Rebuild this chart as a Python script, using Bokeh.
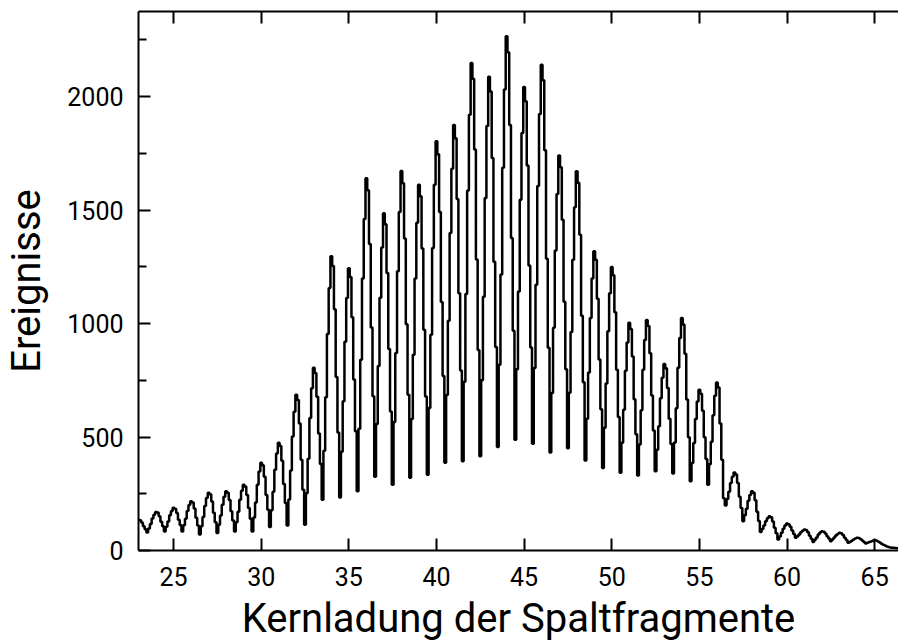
import numpy as np
from bokeh.plotting import figure
from bokeh.models import Range1d, LinearAxis, FixedTicker, ColumnDataSource
from bokeh.embed import file_html
from bokeh.resources import INLINE

# Histogram of nuclear charge (bins of 0.1 charge units; first bin centred at 22.6)
BIN_WIDTH = 0.1
FIRST_CENTER = 22.6

# each line: bins centred at Z-0.4 ... Z+0.5
counts_23_30 = [
    99, 109, 121, 129, 135, 133, 123, 107, 94, 79,          # Z=23
    97, 117, 141, 158, 170, 167, 151, 127, 107, 84,         # Z=24
    105, 128, 155, 174, 188, 184, 165, 136, 112, 84,        # Z=25
    111, 140, 174, 200, 217, 211, 185, 144, 110, 70,        # Z=26
    107, 148, 196, 231, 255, 248, 216, 166, 125, 77,        # Z=27
    114, 154, 202, 237, 261, 254, 222, 173, 132, 84,        # Z=28
    125, 171, 224, 263, 290, 282, 245, 187, 140, 84,        # Z=29
    145, 211, 290, 348, 387, 376, 325, 245, 180, 103,       # Z=30
]
counts_31_38 = [
    177, 259, 356, 427, 475, 460, 395, 293, 209, 110,       # Z=31
    225, 352, 502, 611, 686, 663, 560, 400, 268, 114,       # Z=32
    252, 404, 584, 715, 805, 782, 677, 515, 381, 224,       # Z=33
    439, 675, 954, 1157, 1297, 1254, 1063, 765, 520, 233,   # Z=34
    435, 658, 920, 1113, 1244, 1205, 1028, 753, 526, 261,   # Z=35
    537, 840, 1199, 1461, 1640, 1587, 1351, 983, 680, 325,  # Z=36
    557, 813, 1114, 1335, 1486, 1438, 1223, 888, 613, 290,  # Z=37
    566, 870, 1230, 1492, 1672, 1618, 1375, 997, 686, 321,  # Z=38
]
counts_39_46 = [
    579, 863, 1199, 1444, 1612, 1561, 1331, 973, 679, 334,  # Z=39
    628, 951, 1333, 1612, 1803, 1746, 1491, 1095, 769, 387, # Z=40
    685, 1012, 1399, 1682, 1875, 1816, 1549, 1134, 793, 393,# Z=41
    744, 1130, 1586, 1920, 2148, 2079, 1767, 1282, 883, 415,# Z=42
    750, 1118, 1553, 1871, 2088, 2023, 1729, 1272, 897, 456,# Z=43
    818, 1216, 1687, 2031, 2266, 2195, 1875, 1377, 968, 488,# Z=44
    799, 1141, 1545, 1840, 2042, 1979, 1696, 1256, 894, 470,# Z=45
    804, 1171, 1606, 1923, 2140, 2072, 1764, 1286, 893, 432,# Z=46
]
counts_47_54 = [
    694, 982, 1322, 1571, 1741, 1689, 1457, 1096, 799, 451, # Z=47
    695, 963, 1281, 1512, 1671, 1620, 1391, 1034, 741, 397, # Z=48
    581, 784, 1024, 1199, 1319, 1281, 1109, 842, 622, 364,  # Z=49
    541, 736, 966, 1134, 1249, 1213, 1050, 796, 588, 343,   # Z=50
    475, 620, 792, 917, 1003, 976, 855, 667, 512, 330,      # Z=51
    467, 618, 796, 927, 1016, 989, 869, 683, 529, 349,      # Z=52
    444, 548, 671, 761, 822, 803, 716, 581, 469, 339,       # Z=53
    476, 627, 805, 936, 1025, 996, 867, 665, 499, 305,      # Z=54
]
counts_55_66 = [
    386, 474, 579, 656, 708, 691, 616, 499, 403, 290,       # Z=55
    380, 479, 596, 682, 740, 718, 560, 400, 230, 198,       # Z=56
    227, 259, 297, 325, 344, 335, 297, 237, 187, 129,       # Z=57
    155, 184, 219, 244, 261, 254, 221, 171, 130, 81,        # Z=58
    95, 110, 129, 142, 151, 147, 128, 100, 76, 48,          # Z=59
    62, 78, 96, 110, 119, 116, 105, 88, 73, 56,             # Z=60
    63, 71, 80, 87, 92, 90, 80, 65, 52, 37,                 # Z=61
    47, 57, 70, 79, 85, 83, 75, 63, 53, 41,                 # Z=62
    48, 57, 66, 73, 78, 76, 68, 56, 46, 34,                 # Z=63
    38, 43, 49, 53, 56, 55, 51, 44, 38, 31,                 # Z=64
    34, 37, 40, 43, 45, 44, 40, 35, 30, 25,                 # Z=65
    22, 18, 15, 13, 12, 12, 11, 10, 10, 9,                  # Z=66
]

x_ticks = [25, 30, 35, 40, 45, 50, 55, 60, 65]
y_ticks = [0, 500, 1000, 1500, 2000]
y_minor_ticks = [250, 750, 1250, 1750, 2250]

x_label = "Kernladung der Spaltfragmente"
y_label = "Ereignisse"

counts = counts_23_30 + counts_31_38 + counts_39_46 + counts_47_54 + counts_55_66
centers = np.round(FIRST_CENTER + BIN_WIDTH * np.arange(len(counts)), 2)
source = ColumnDataSource(data=dict(z=centers, n=counts))

FONT = "Roboto"

p = figure(width=898, height=644, output_backend="svg", toolbar_location=None,
           x_range=Range1d(23.0, 66.36), y_range=Range1d(0, 2375),
           x_axis_location=None, y_axis_location=None,
           min_border_left=137, min_border_right=0, min_border_top=11, min_border_bottom=93)
p.outline_line_color = None
p.xgrid.visible = False
p.ygrid.visible = False
p.background_fill_color = "white"
p.border_fill_color = "white"

p.step("z", "n", source=source, mode="center", line_color="black", line_width=2.5)


def style(ax):
    ax.axis_line_color = "black"
    ax.axis_line_width = 2
    ax.major_tick_in = 12
    ax.major_tick_out = 0
    ax.minor_tick_in = 8
    ax.minor_tick_out = 0
    ax.major_tick_line_color = "black"
    ax.major_tick_line_width = 2
    ax.minor_tick_line_color = "black"
    ax.minor_tick_line_width = 2
    ax.major_label_text_font = FONT
    ax.major_label_text_font_size = "25px"
    ax.major_label_text_color = "black"
    ax.axis_label_text_font = FONT
    ax.axis_label_text_font_size = "40px"
    ax.axis_label_text_font_style = "normal"
    ax.axis_label_text_color = "black"


xb = LinearAxis(ticker=FixedTicker(ticks=x_ticks, minor_ticks=[]), axis_label=x_label)
style(xb)
xb.major_label_standoff = 16
xb.axis_label_standoff = 6
p.add_layout(xb, "below")

# top frame line with inward ticks, no labels drawn
xt = LinearAxis(ticker=FixedTicker(ticks=x_ticks, minor_ticks=[]))
style(xt)
xt.major_label_text_font_size = "0px"
xt.major_label_text_color = None
xt.major_label_standoff = 0
p.add_layout(xt, "above")

yl = LinearAxis(ticker=FixedTicker(ticks=y_ticks, minor_ticks=y_minor_ticks), axis_label=y_label)
style(yl)
yl.major_label_standoff = 15
yl.axis_label_standoff = 14
p.add_layout(yl, "left")

open("out.html", "w").write(file_html(p, INLINE))
